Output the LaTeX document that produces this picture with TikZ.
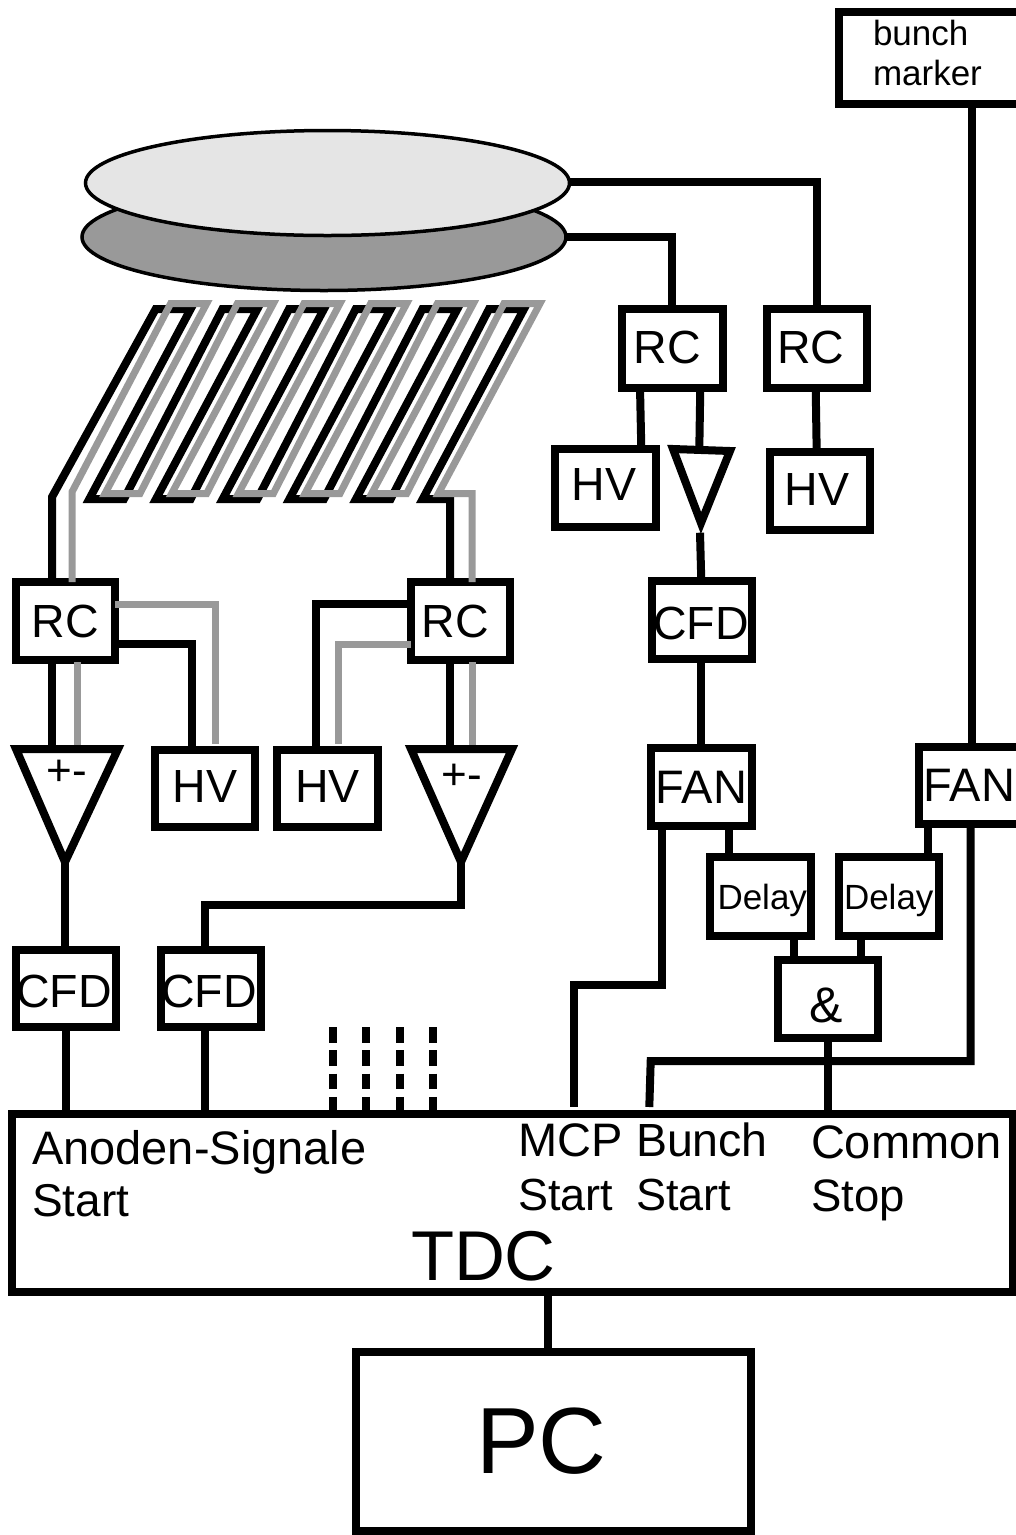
\documentclass[tikz,border=0pt]{standalone}
\usepackage{fontspec}
\usetikzlibrary{shapes.geometric}
\setmainfont{Liberation Sans}
\definecolor{meandergray}{gray}{0.6}
\definecolor{disklight}{gray}{0.9}
\definecolor{diskdark}{gray}{0.6}
\tikzset{
  x=1pt,y=-1pt,
  wire/.style={line width=8pt,line join=miter,black},
  graywire/.style={line width=7pt,line join=miter,meandergray},
  boxed/.style={draw=black,line width=8pt,fill=white,rectangle,inner sep=0pt,outer sep=0pt,anchor=north west},
  tri/.style={draw=black,line width=8pt,fill=white},
  disk/.style={draw=black,line width=3.5pt,ellipse,inner sep=0pt,outer sep=0pt},
  txt/.style={inner sep=0pt,outer sep=0pt,anchor=base west},
  lbl/.style={inner sep=0pt,outer sep=0pt},
}
\newcommand{\bx}[5]{\node[boxed,minimum width=#4pt-#2pt,minimum height=#5pt-#3pt] (#1) at (#2,#3) {};}
\newcommand{\lb}[5]{\node[lbl,font=\fontsize{#4}{#4}\selectfont] (#1t) at ([xshift=#2pt,yshift=#3pt]#1.center) {#5};}
\newcommand{\tx}[5]{\node[txt,font=\fontsize{#4}{#4}\selectfont] (#1) at (#2,#3) {#5};}
\begin{document}
\begin{tikzpicture}[line cap=butt]
\useasboundingbox (0,0) rectangle (1016,1535);
% disks
\node[disk,fill=diskdark,minimum width=484pt,minimum height=107pt] (dd) at (324,237) {};
\node[disk,fill=disklight,minimum width=484pt,minimum height=105pt] (dl) at (327.5,183) {};
% meanders
\bx{rca}{16}{582}{115}{660}
\bx{rcb}{411}{582}{510}{660}
\draw[wire] (rca.north -| 52,0) -- (52,497) -- (155.7,309)
  -- (190.7,309) -- (89.3,499) -- (124,499)
  -- (222.4,309) -- (257.4,309) -- (156,499) -- (190.7,499)
  -- (289,309) -- (324,309) -- (222.7,499) -- (257.4,499)
  -- (355.7,309) -- (390.7,309) -- (289.4,499) -- (324,499)
  -- (422.4,309) -- (457.4,309) -- (356,499) -- (390.7,499)
  -- (489,309) -- (524,309) -- (422.7,499) -- (450,499) -- (rcb.north -| 450,0);
\draw[graywire] (rca.north -| 72,0) -- (72,492) -- (170.7,303.5)
  -- (206.7,303.5) -- (105,493.5) -- (140,493.5)
  -- (237.4,303.5) -- (273.4,303.5) -- (171.7,493.5) -- (206.7,493.5)
  -- (304,303.5) -- (340,303.5) -- (238.4,493.5) -- (273.4,493.5)
  -- (370.7,303.5) -- (406.7,303.5) -- (305,493.5) -- (340,493.5)
  -- (437.4,303.5) -- (473.4,303.5) -- (371.7,493.5) -- (406.7,493.5)
  -- (504,303.5) -- (540,303.5) -- (438.4,493.5) -- (472,493.5) -- (rcb.north -| 472,0);
% blocks
\bx{hva}{155}{750}{255}{827}
\bx{hvb}{277}{750}{378}{827}
\bx{cfa}{16}{950}{116}{1027}
\bx{cfb}{161}{950}{261}{1027}
\bx{rcc}{622}{309}{722.5}{387.5}
\bx{rcd}{767}{309}{867}{387.5}
\bx{hvc}{555}{448.5}{655.5}{526.5}
\bx{hvd}{770}{452}{870}{530}
\bx{cfc}{652}{581}{752}{659}
\bx{fna}{651}{748}{752}{826}
\bx{fnb}{919}{746.5}{1030}{824}
\bx{dla}{710}{857}{810.5}{935.5}
\bx{dlb}{838.5}{857}{939}{935.5}
\bx{amp}{778}{960}{878}{1038}
\bx{tdc}{12}{1114}{1013}{1292}
\bx{pc}{356}{1352}{751}{1531}
\bx{bm}{839}{12}{1030}{104}
% triangles
\coordinate (ta1) at (16,749);\coordinate (ta2) at (118,749);\coordinate (ta3) at (65,862);
\coordinate (tb1) at (411,749);\coordinate (tb2) at (512,749);\coordinate (tb3) at (461,862);
\coordinate (tc1) at (673,449);\coordinate (tc2) at (730,451);\coordinate (tc3) at (701,523);
\draw[tri] (ta1) -- (ta2) -- (ta3) -- cycle;
\draw[tri] (tb1) -- (tb2) -- (tb3) -- cycle;
\draw[tri] (tc1) -- (tc2) -- (tc3) -- cycle;
\node[lbl,font=\fontsize{44}{44}\selectfont] (pma) at (67,773) {+-};
\node[lbl,font=\fontsize{44}{44}\selectfont] (pmb) at (462,777) {+-};
% connectors
\draw[wire] (rca.south -| 52,0) -- (ta1 -| 52,0);
\draw[graywire] (77,662) -- (77,745);
\draw[graywire] (rca.east |- 0,604) -- (215,604) -- (215,744);
\draw[wire] (rca.east |- 0,644) -- (192,644) -- (hva.north -| 192,0);
\draw[wire] (rcb.west |- 0,604) -- (316,604) -- (hvb.north -| 316,0);
\draw[graywire] (rcb.west |- 0,644) -- (338,644) -- (338,744);
\draw[wire] (rcb.south -| 450,0) -- (tb1 -| 450,0);
\draw[graywire] (472,662) -- (472,745);
\draw[wire] (ta3) -- (cfa.north -| ta3);
\draw[wire] (tb3) -- (461,905) -- (205,905) -- (cfb.north -| 205,0);
\draw[wire] (cfa.south -| 66,0) -- (tdc.north -| 66,0);
\draw[wire] (cfb.south -| 205,0) -- (tdc.north -| 205,0);
\foreach \x in {333,366,399.6,433}{
  \draw[line width=8pt,dash pattern=on 15.5pt off 7.8pt] (\x,1027) -- (tdc.north -| \x,0);
}
\draw[wire] (dl.east |- 0,181.5) -- (816.7,181.5) -- (rcd.north -| 816.7,0);
\draw[wire] (dd.east) -- (672.3,237) -- (rcc.north -| 672.3,0);
\draw[wire] (rcc.south -| 640,0) -- (hvc.north -| 641.3,0);
\draw[wire] (rcc.south -| 700.3,0) -- (tc1 -| 699.3,0);
\draw[wire] (rcd.south -| 815.7,0) -- (hvd.north -| 816.7,0);
\draw[wire] (700,532.7) -- (cfc.north -| 701.3,0);
\draw[wire] (cfc.south -| 701,0) -- (fna.north -| 701,0);
\draw[wire] (bm.south -| 972,0) -- (fnb.north -| 972,0);
\draw[wire] (fna.south -| 662,0) -- (662,985) -- (574,985) -- (574,1107);
\draw[wire] (fna.south -| 729,0) -- (dla.north -| 729,0);
\draw[wire] (fnb.south -| 928,0) -- (dlb.north -| 928,0);
\draw[wire] (dla.south -| 794,0) -- (amp.north -| 794,0);
\draw[wire] (dlb.south -| 861,0) -- (amp.north -| 861,0);
\draw[wire] (fnb.south -| 970.7,0) -- (970.7,1061) -- (650.7,1061) -- (649.3,1107);
\draw[wire] (amp.south -| 827.7,0) -- (tdc.north -| 827.7,0);
\draw[wire] (tdc.south -| 548,0) -- (pc.north -| 548,0);
% block labels
\lb{rca}{0}{0}{46.5}{RC}
\lb{rcb}{-5}{0}{46.5}{RC}
\lb{hva}{0}{2}{46.5}{HV}
\lb{hvb}{0}{2}{46.5}{HV}
\lb{cfa}{-2}{-3}{46.5}{CFD}
\lb{cfb}{-2}{-3}{46.5}{CFD}
\lb{rcc}{-5}{1}{46.5}{RC}
\lb{rcd}{-6}{1}{46.5}{RC}
\lb{hvc}{-1}{3}{46.5}{HV}
\lb{hvd}{-3}{2}{46.5}{HV}
\lb{cfc}{-1}{-3}{46.5}{CFD}
\lb{fna}{0}{0}{47}{FAN}
\lb{fnb}{-5}{0}{47}{FAN}
\lb{dla}{2}{-4}{35}{Delay}
\lb{dlb}{0}{-4}{35}{Delay}
\lb{amp}{-2}{-6}{50}{\&}
\lb{pc}{-12}{0}{94}{PC}
% texts
\tx{ta}{32}{1164}{47}{Anoden-Signale}
\tx{tb}{32}{1216}{46}{Start}
\tx{tc}{518}{1156}{47}{MCP}
\tx{td}{518}{1210}{45}{Start}
\tx{te}{636}{1156}{46.5}{Bunch}
\tx{tf}{636}{1210}{45}{Start}
\tx{tg}{811}{1158}{47}{Common}
\tx{th}{811}{1211}{45.5}{Stop}
\tx{ti}{411}{1280}{70.5}{TDC}
\tx{tj}{873}{45.7}{35}{bunch}
\tx{tk}{873}{85}{35}{marker}
\end{tikzpicture}
\end{document}
